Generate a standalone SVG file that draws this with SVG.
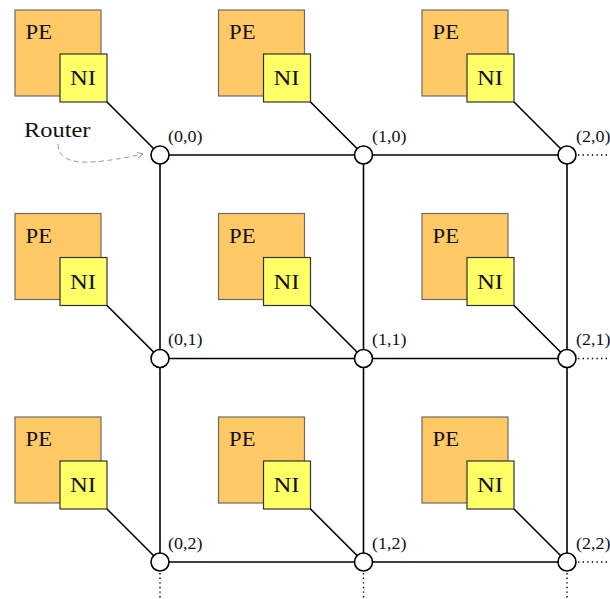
<svg xmlns="http://www.w3.org/2000/svg" width="610" height="599" viewBox="0 0 610 599">
  <style>
    .pe { fill: #FFC966; stroke: #6b6b6b; stroke-width: 1.2; }
    .ni { fill: #FFFF66; stroke: #333; stroke-width: 1.2; }
    .link { stroke: #000; stroke-width: 1.6; fill: none; }
    .dots { stroke: #000; stroke-width: 1.4; stroke-dasharray: 1.4 3.2; fill: none; }
    .router { fill: #fff; stroke: #000; stroke-width: 1.6; }
    .t { font-family: "Liberation Serif", "DejaVu Serif", serif; fill: #111; }
    .big { font-size: 21.5px; }
    .lbl { font-size: 17px; }
  </style>
  <defs>
    <marker id="arr" viewBox="0 0 10 10" refX="9" refY="5" markerWidth="7" markerHeight="7" orient="auto">
      <path d="M1,1 L9,5 L1,9" fill="none" stroke="#999" stroke-width="1.3"/>
    </marker>
    <g id="tile">
      <rect class="pe" x="-145" y="-145" width="86" height="86"/>
      <rect class="ni" x="-100" y="-101" width="47" height="48"/>
      <text class="t big" x="-134.5" y="-116" textLength="26.5" lengthAdjust="spacingAndGlyphs">PE</text>
      <text class="t big" x="-90" y="-70" textLength="26" lengthAdjust="spacingAndGlyphs">NI</text>
      <line class="link" x1="-53" y1="-53" x2="-6" y2="-6"/>
    </g>
  </defs>

  <!-- mesh links -->
  <g id="connectors">
    <line class="link" x1="160" y1="155" x2="567" y2="155"/>
    <line class="link" x1="160" y1="358.5" x2="567" y2="358.5"/>
    <line class="link" x1="160" y1="562" x2="567" y2="562"/>
    <line class="link" x1="160" y1="155" x2="160" y2="562"/>
    <line class="link" x1="363.5" y1="155" x2="363.5" y2="562"/>
    <line class="link" x1="567" y1="155" x2="567" y2="562"/>
    <line class="dots" x1="578" y1="155" x2="610" y2="155"/>
    <line class="dots" x1="578" y1="358.5" x2="610" y2="358.5"/>
    <line class="dots" x1="578" y1="562" x2="610" y2="562"/>
    <line class="dots" x1="160" y1="573" x2="160" y2="599"/>
    <line class="dots" x1="363.5" y1="573" x2="363.5" y2="599"/>
    <line class="dots" x1="567" y1="573" x2="567" y2="599"/>
    <path d="M58,144 C58,170 100,163 143,154" fill="none" stroke="#999" stroke-width="1" stroke-dasharray="5 3.5" marker-end="url(#arr)"/>
  </g>

  <!-- tiles: PE + NI attached to each router -->
  <g id="n00"><use href="#tile" x="160" y="155"/><circle class="router" cx="160" cy="155" r="9"/><text class="t lbl" x="168" y="141.5" textLength="34.5" lengthAdjust="spacingAndGlyphs">(0,0)</text></g>
  <g id="n10"><use href="#tile" x="363.5" y="155"/><circle class="router" cx="363.5" cy="155" r="9"/><text class="t lbl" x="372" y="141.5" textLength="34.5" lengthAdjust="spacingAndGlyphs">(1,0)</text></g>
  <g id="n20"><use href="#tile" x="567" y="155"/><circle class="router" cx="567" cy="155" r="9"/><text class="t lbl" x="576" y="141.5" textLength="34.5" lengthAdjust="spacingAndGlyphs">(2,0)</text></g>
  <g id="n01"><use href="#tile" x="160" y="358.5"/><circle class="router" cx="160" cy="358.5" r="9"/><text class="t lbl" x="168" y="345" textLength="34.5" lengthAdjust="spacingAndGlyphs">(0,1)</text></g>
  <g id="n11"><use href="#tile" x="363.5" y="358.5"/><circle class="router" cx="363.5" cy="358.5" r="9"/><text class="t lbl" x="372" y="345" textLength="34.5" lengthAdjust="spacingAndGlyphs">(1,1)</text></g>
  <g id="n21"><use href="#tile" x="567" y="358.5"/><circle class="router" cx="567" cy="358.5" r="9"/><text class="t lbl" x="576" y="345" textLength="34.5" lengthAdjust="spacingAndGlyphs">(2,1)</text></g>
  <g id="n02"><use href="#tile" x="160" y="562"/><circle class="router" cx="160" cy="562" r="9"/><text class="t lbl" x="168" y="548.5" textLength="34.5" lengthAdjust="spacingAndGlyphs">(0,2)</text></g>
  <g id="n12"><use href="#tile" x="363.5" y="562"/><circle class="router" cx="363.5" cy="562" r="9"/><text class="t lbl" x="372" y="548.5" textLength="34.5" lengthAdjust="spacingAndGlyphs">(1,2)</text></g>
  <g id="n22"><use href="#tile" x="567" y="562"/><circle class="router" cx="567" cy="562" r="9"/><text class="t lbl" x="576" y="548.5" textLength="34.5" lengthAdjust="spacingAndGlyphs">(2,2)</text></g>

  <g id="router-label"><text class="t" font-size="20" x="24" y="136.5" textLength="66.5" lengthAdjust="spacingAndGlyphs">Router</text></g>
</svg>
